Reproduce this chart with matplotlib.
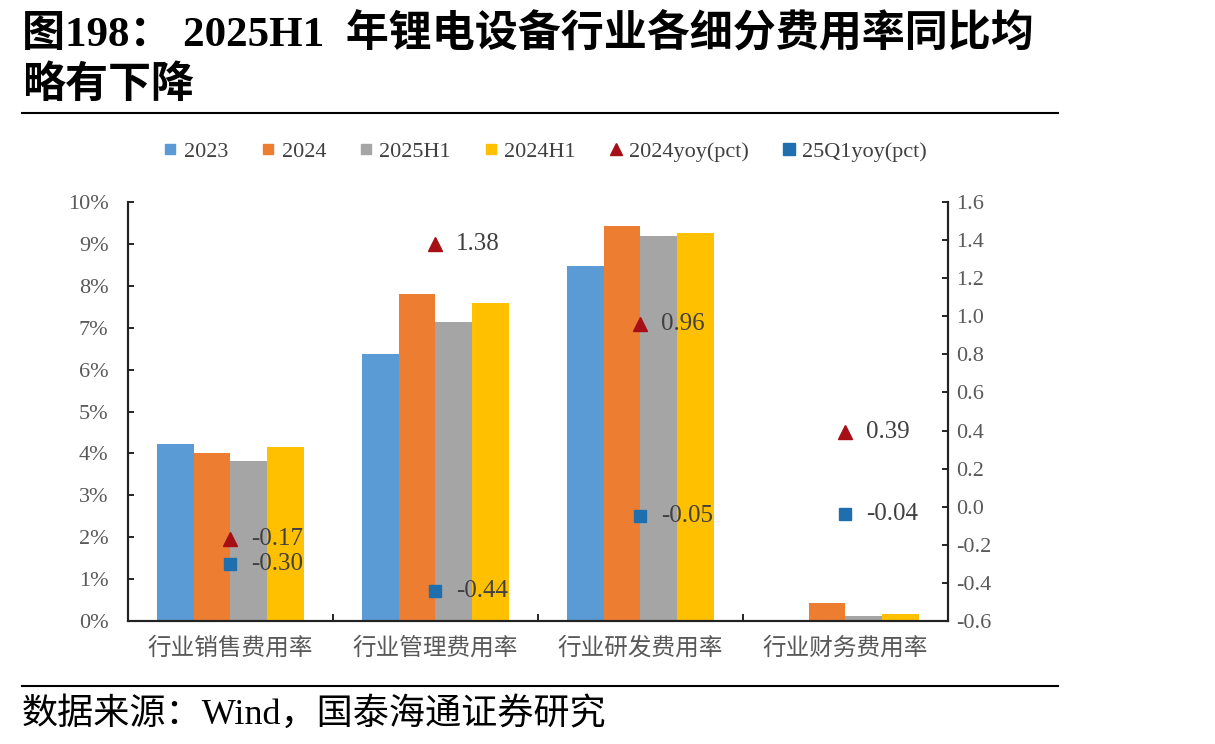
import matplotlib.pyplot as plt
import numpy as np
from matplotlib.lines import Line2D
from matplotlib.ticker import FuncFormatter, MultipleLocator

plt.rcParams['font.family'] = ['Liberation Serif', 'Noto Sans CJK SC']

# data
categories = ['行业销售费用率', '行业管理费用率', '行业研发费用率', '行业财务费用率']
rate_2023 = [4.22, 6.37, 8.47, 0.03]
rate_2024 = [4.01, 7.80, 9.43, 0.43]
rate_2025h1 = [3.82, 7.14, 9.19, 0.12]
rate_2024h1 = [4.15, 7.59, 9.26, 0.16]
yoy_2024 = [-0.17, 1.38, 0.96, 0.39]
yoy_25q1 = [-0.30, -0.44, -0.05, -0.04]

bar_names = ['2023', '2024', '2025H1', '2024H1']
bar_colors = ['#5B9BD5', '#ED7D31', '#A5A5A5', '#FFC000']
tri_color = '#A50F15'
sq_color = '#1F6FAF'
grey = '#595959'

fig = plt.figure(figsize=(12.15, 7.44), dpi=100)
ax = fig.add_axes([0.1053, 0.1653, 0.6749, 0.5632])
ax2 = ax.twinx()

x = np.arange(len(categories))
w = 0.18
for i, (vals, name, col) in enumerate(zip([rate_2023, rate_2024, rate_2025h1, rate_2024h1],
                                          bar_names, bar_colors)):
    ax.bar(x + (i - 1.5) * w, vals, width=w, color=col, label=name)

ax.set_xlim(-0.5, 3.5)
ax.set_ylim(0, 10)
ax.yaxis.set_major_locator(MultipleLocator(1))
ax.yaxis.set_major_formatter(FuncFormatter(lambda v, p: f'{v:.0f}%'))
ax.set_xticks(x)
ax.set_xticklabels(categories, fontsize=17, color=grey, family='Noto Sans CJK SC')
ax.set_xticks([0.5, 1.5, 2.5], minor=True)
ax.tick_params(axis='x', which='major', length=0, pad=11)
ax.tick_params(axis='x', which='minor', direction='in', length=5, width=1.2)
ax.tick_params(axis='y', direction='in', length=4, width=1.2, labelsize=16,
               labelcolor=grey, pad=14)

ax2.set_ylim(-0.6, 1.6)
ax2.yaxis.set_major_locator(MultipleLocator(0.2))
ax2.yaxis.set_major_formatter(FuncFormatter(lambda v, p: f'{v:.1f}'.replace('−', '-')))
ax2.tick_params(axis='y', direction='in', length=4, width=1.2, labelsize=16,
                labelcolor=grey, pad=6)

ax2.plot(x, yoy_2024, linestyle='none', marker='^', markersize=10,
         color=tri_color, label='2024yoy(pct)')
ax2.plot(x, yoy_25q1, linestyle='none', marker='s', markersize=9,
         color=sq_color, label='25Q1yoy(pct)')
for xi, v in zip(x, yoy_2024):
    ax2.annotate(f'{v:.2f}', (xi, v), xytext=(15, 0), textcoords='offset points',
                 va='center', ha='left', fontsize=18, color='#404040')
for xi, v in zip(x, yoy_25q1):
    ax2.annotate(f'{v:.2f}', (xi, v), xytext=(15, 0), textcoords='offset points',
                 va='center', ha='left', fontsize=18, color='#404040')

for a in (ax, ax2):
    a.spines['top'].set_visible(False)
    for s in ('left', 'right', 'bottom'):
        a.spines[s].set_linewidth(1.5)
        a.spines[s].set_color('#222222')

handles = [Line2D([], [], linestyle='none', marker='s', markersize=7, color=c)
           for c in bar_colors] + [Line2D([], [], linestyle='none', marker='^',
                                          markersize=9, color=tri_color),
                                   Line2D([], [], linestyle='none', marker='s',
                                          markersize=9, color=sq_color)]
labels = bar_names + ['2024yoy(pct)', '25Q1yoy(pct)']
fig.legend(handles, labels, loc='center', bbox_to_anchor=(0.449, 0.796), ncol=6,
           frameon=False, fontsize=16, handlelength=0.6, handletextpad=0.3,
           columnspacing=1.5, labelcolor='#404040')

fig.text(0.018, 0.955, '图198： 2025H1  年锂电设备行业各细分费用率同比均',
         fontsize=31, fontweight='bold', va='center', ha='left')
fig.text(0.018, 0.885, '略有下降', fontsize=31, fontweight='bold', va='center', ha='left')
fig.add_artist(Line2D([0.018, 0.871], [0.848, 0.848], color='black', lw=1.5))
fig.add_artist(Line2D([0.018, 0.871], [0.078, 0.078], color='black', lw=1.5))
fig.text(0.018, 0.040, '数据来源：Wind，国泰海通证券研究', fontsize=26, va='center', ha='left')

plt.savefig('out.png', dpi=100)
